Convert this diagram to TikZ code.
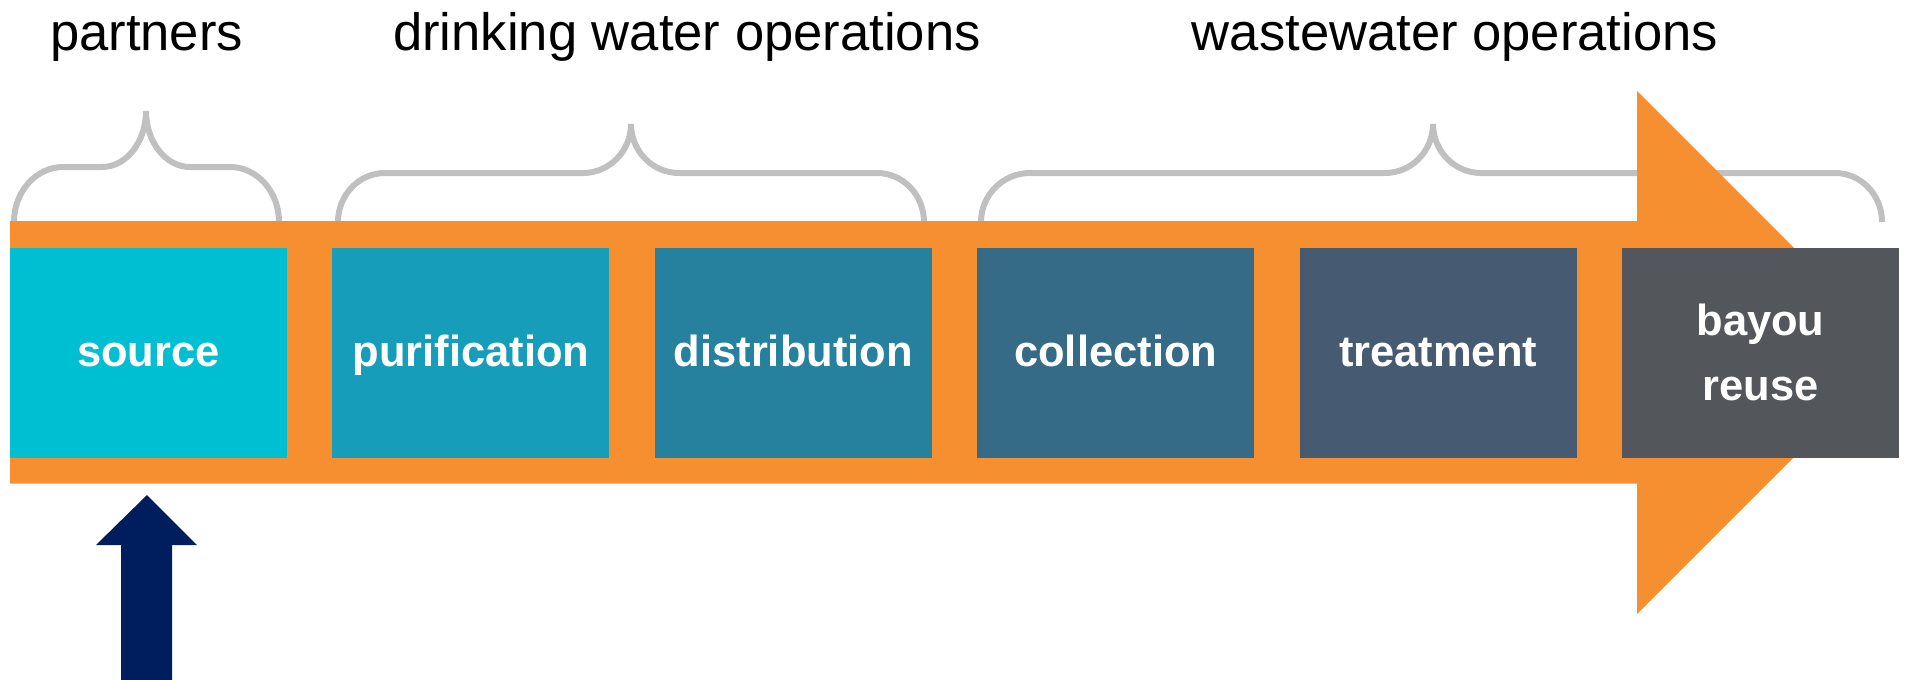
\documentclass[tikz,border=0pt]{standalone}
\usepackage{fontspec}
\setmainfont{Liberation Sans}
\definecolor{orangebar}{RGB}{246,143,48}
\definecolor{bracegray}{RGB}{192,192,192}
\definecolor{navyarrow}{RGB}{0,30,94}
\definecolor{cA}{RGB}{0,191,211}
\definecolor{cB}{RGB}{22,157,186}
\definecolor{cC}{RGB}{38,129,159}
\definecolor{cD}{RGB}{53,107,135}
\definecolor{cE}{RGB}{70,91,113}
\definecolor{cF}{RGB}{83,86,90}
\tikzset{
  stagebox/.style={draw=none, inner sep=0pt, minimum width=138.5pt, minimum height=104.75pt,
    text=white, align=center, font=\fontsize{21.75}{32.5}\selectfont\bfseries},
  oneline/.style={text height=16pt, text depth=2.75pt},
  grouplabel/.style={anchor=base, inner sep=0pt, font=\fontsize{26.3}{30}\selectfont, text=black},
  bracelin/.style={draw=bracegray, line width=3pt}
}
\begin{document}
\begin{tikzpicture}[x=0.5pt, y=-0.5pt]
\useasboundingbox (0,0) rectangle (1907,680);
% group labels
\node[grouplabel] (lpartners) at (146.5,50) {partners};
\node[grouplabel] (ldrinking) at (687,50) {drinking water operations};
\node[grouplabel] (lwaste) at (1455,50) {wastewater operations};
% braces
\draw[bracelin] (14,222) .. controls (14,191.6) and (36,167) .. (63,167) -- (102,167)
  .. controls (126.3,167) and (146,141.9) .. (146,111)
  .. controls (146,141.9) and (165.7,167) .. (190,167) -- (230,167)
  .. controls (257,167) and (279,191.6) .. (279,222);
\draw[bracelin] (338,222) .. controls (338,195) and (359,173) .. (385,173) -- (583,173)
  .. controls (609.5,173) and (631,151) .. (631,124)
  .. controls (631,151) and (652.5,173) .. (679,173) -- (877,173)
  .. controls (903,173) and (924,195) .. (924,222);
\draw[bracelin] (981,222) .. controls (981,195) and (1003,173) .. (1030,173) -- (1385,173)
  .. controls (1411.5,173) and (1433,151) .. (1433,124)
  .. controls (1433,151) and (1454.5,173) .. (1481,173) -- (1835,173)
  .. controls (1861,173) and (1882,195) .. (1882,222);
% orange flow arrow
\fill[orangebar] (10,221) -- (1637,221) -- (1637,91) -- (1898.5,352.5) -- (1637,614)
  -- (1637,483.5) -- (10,483.5) -- cycle;
% stage boxes
\node[stagebox, oneline, fill=cA] (source) at (148.5,352.75) {source};
\node[stagebox, oneline, fill=cB] (purification) at (470.9,352.75) {purification};
\node[stagebox, oneline, fill=cC] (distribution) at (793.3,352.75) {distribution};
\node[stagebox, oneline, fill=cD] (collection) at (1115.7,352.75) {collection};
\node[stagebox, oneline, fill=cE] (treatment) at (1438.1,352.75) {treatment};
\node[stagebox, fill=cF] (bayou) at (1760.5,352.75) {bayou\\reuse};
% navy arrow
\fill[navyarrow] (147,495) -- (197,545) -- (172,545) -- (172,680) -- (121,680) -- (121,545) -- (96,545) -- cycle;
\end{tikzpicture}
\end{document}
